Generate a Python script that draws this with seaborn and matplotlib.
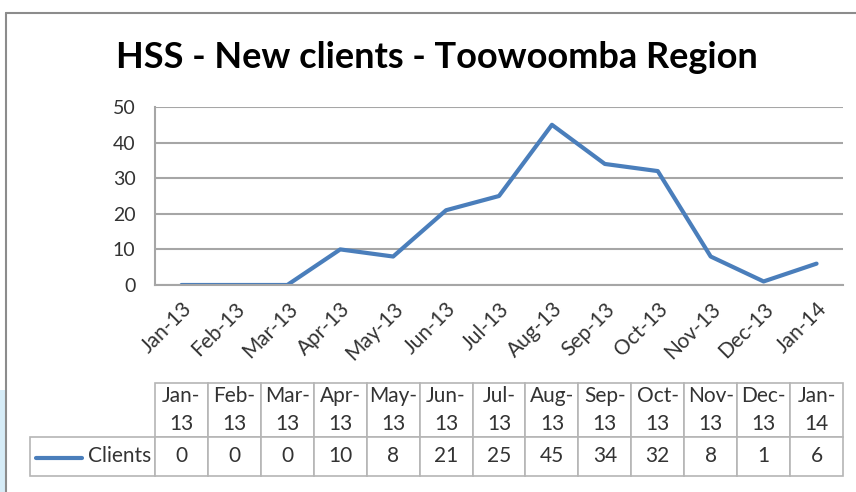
import numpy as np
import pandas as pd
import matplotlib
matplotlib.use("Agg")
import matplotlib.pyplot as plt
import seaborn as sns
from matplotlib.patches import Rectangle

# Chart data
months = ["Jan-13", "Feb-13", "Mar-13", "Apr-13", "May-13", "Jun-13", "Jul-13",
          "Aug-13", "Sep-13", "Oct-13", "Nov-13", "Dec-13", "Jan-14"]
clients = [0, 0, 0, 10, 8, 21, 25, 45, 34, 32, 8, 1, 6]
series_name = "Clients"
title = "HSS - New clients - Toowoomba Region"

line_color = "#4a7ebb"
grid_color = "#a6a6a6"
text_color = "#333333"

sns.set_theme(style="white")
plt.rcParams["font.family"] = ["Lato", "DejaVu Sans"]

df = pd.DataFrame({"month": months, "clients": clients})
df["pos"] = np.arange(len(months))

fig = plt.figure(figsize=(8.56, 4.92), dpi=100)
ax = fig.add_axes([155 / 856, 1 - 285 / 492, 688 / 856, 178 / 492])

sns.lineplot(data=df, x="pos", y="clients", ax=ax, color=line_color,
             linewidth=3, label=series_name, legend=False)

ax.set_xlim(-0.5, len(months) - 0.5)
ax.set_ylim(0, 50)
ax.set_yticks(range(0, 51, 10))
ax.yaxis.grid(True, color=grid_color, linewidth=1.5)
ax.set_axisbelow(True)
for s in ["top", "right"]:
    ax.spines[s].set_visible(False)
for s in ["left", "bottom"]:
    ax.spines[s].set_color(grid_color)
    ax.spines[s].set_linewidth(1.5)

ax.set_xticks(df["pos"])
ax.set_xticklabels(months, rotation=45, ha="right", rotation_mode="anchor",
                   fontsize=15, color=text_color)
ax.tick_params(axis="x", length=0, pad=10)
ax.tick_params(axis="y", length=0, pad=14, labelsize=14, labelcolor=text_color)
ax.set_xlabel("")
ax.set_ylabel("")

fig.text(437 / 856, 1 - 57 / 492, title, ha="center", va="center",
         fontsize=26, fontweight="bold", color="black")

# Data table below the chart
header = [""] + [m.replace("-", "-\n") for m in months]
values = [series_name] + [str(v) for v in clients]
tbl = ax.table(cellText=[header, values], cellLoc="center",
               bbox=[(30 - 155) / 688, (285 - 476) / 178, (843 - 30) / 688, (476 - 383) / 178])
tbl.auto_set_font_size(False)
tbl.set_fontsize(15)
col_w = [125] + [688 / len(months)] * len(months)
for (r, c), cell in tbl.get_celld().items():
    cell.set_width(col_w[c])
    cell.set_height(54 if r == 0 else 39)
    cell.set_edgecolor("#b5b5b5")
    cell.set_linewidth(1.2)
    cell.get_text().set_color(text_color)
    cell.get_text().set_linespacing(1.45)
    if r == 0 and c == 0:
        cell.visible_edges = ""
    if r == 1 and c == 0:
        cell.get_text().set_ha("right")
        cell.PAD = 0.03

# legend key inside the label cell
ax.plot([(36 - 155) / 688, (82 - 155) / 688], [(285 - 458) / 178] * 2,
        transform=ax.transAxes, color=line_color, linewidth=3, clip_on=False)

# outer frame
fig.patches.append(Rectangle((0, 0), 6 / 856, 1 - 390 / 492, transform=fig.transFigure,
                             facecolor="#d6ecf7", edgecolor="none"))
fig.add_artist(plt.Line2D([6 / 856, 1], [1 - 12.5 / 492] * 2, transform=fig.transFigure,
                          color="#8c8c8c", linewidth=1.5))
fig.add_artist(plt.Line2D([6 / 856, 6 / 856], [0, 1 - 12.5 / 492], transform=fig.transFigure,
                          color="#8c8c8c", linewidth=1.5))

fig.savefig("out.png", dpi=100)
